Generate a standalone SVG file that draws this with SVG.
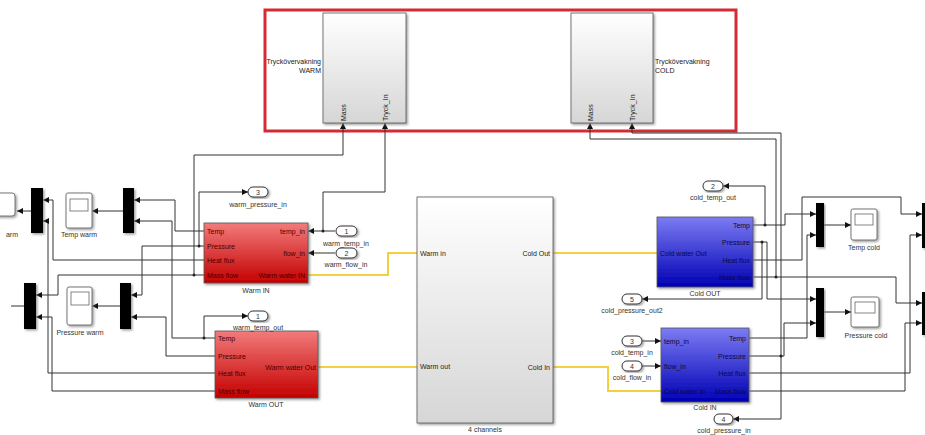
<svg xmlns="http://www.w3.org/2000/svg" width="925" height="435" viewBox="0 0 925 435">
<style>
text{font-family:"Liberation Sans",Arial,sans-serif;font-size:7px;fill:#222}
.w{fill:none;stroke:#333;stroke-width:1}
.y{fill:none;stroke:#f2d040;stroke-width:2}
.mux{fill:#000;filter:url(#sh)}
.blk{stroke:#555;stroke-width:0.8;filter:url(#sh)}
.port{fill:#fff;stroke:#333;stroke-width:1;filter:url(#sh)}
.scope{fill:#fff;stroke:#777;stroke-width:1;filter:url(#sh)}
.scr{fill:#fff;stroke:#666;stroke-width:0.8}
.rt{fill:#4a0000}
.bt{fill:#0a0a40}
.lbl{text-anchor:middle;fill:#333}
.e{text-anchor:end}
.dot{fill:#222}
</style>
<defs>
<marker id="a" markerUnits="userSpaceOnUse" markerWidth="6" markerHeight="6" refX="6" refY="3" orient="auto">
<path d="M0,0 L6,3 L0,6 z" fill="#111"/>
</marker>
<linearGradient id="gRed" x1="0" y1="0" x2="0" y2="1">
<stop offset="0" stop-color="#f27b7b"/><stop offset="1" stop-color="#c40000"/>
</linearGradient>
<linearGradient id="gBlue" x1="0" y1="0" x2="0" y2="1">
<stop offset="0" stop-color="#7c7cf4"/><stop offset="1" stop-color="#0000b4"/>
</linearGradient>
<linearGradient id="gGrey" x1="0" y1="0" x2="0" y2="1">
<stop offset="0" stop-color="#ffffff"/><stop offset="1" stop-color="#d6d6d6"/>
</linearGradient>
<filter id="sh" x="-20%" y="-20%" width="140%" height="140%">
<feDropShadow dx="1.5" dy="1.5" stdDeviation="0.8" flood-color="#777" flood-opacity="0.7"/>
</filter>
</defs>
<rect width="925" height="435" fill="#fff"/>

<g id="monitor-frame">
<rect x="265" y="10" width="471" height="121" fill="none" stroke="#d42a33" stroke-width="3"/>
</g>

<g id="connectors">
<path class="w" d="M204,231 H175 V200 H134" marker-end="url(#a)"/>
<path class="w" d="M215,338 H172 V221 H134" marker-end="url(#a)"/>
<path class="w" d="M204,338 V316 H248" marker-end="url(#a)"/>
<path class="w" d="M204,246 H142 V295 H131" marker-end="url(#a)"/>
<path class="w" d="M199,246 V192 H248" marker-end="url(#a)"/>
<path class="w" d="M215,356 H166 V317 H131" marker-end="url(#a)"/>
<path class="w" d="M204,260 H53 V200 H43" marker-end="url(#a)"/>
<path class="w" d="M215,373 H48 V221 H43" marker-end="url(#a)"/>
<path class="w" d="M204,275 H58 V295 H36" marker-end="url(#a)"/>
<path class="w" d="M215,391 H52 V317 H36" marker-end="url(#a)"/>
<path class="w" d="M194,275 V155 H343 V123" marker-end="url(#a)"/>
<path class="w" d="M335,231 H308" marker-end="url(#a)"/>
<path class="w" d="M323,231 V192 H385 V123" marker-end="url(#a)"/>
<path class="w" d="M335,253 H308" marker-end="url(#a)"/>
<path class="w" d="M123,211 H92" marker-end="url(#a)"/>
<path class="w" d="M31,211 H17" marker-end="url(#a)"/>
<path class="w" d="M120,306 H92" marker-end="url(#a)"/>
<path class="w" d="M24,306 H11"/>
<path class="w" d="M753,225 H785 V214 H816" marker-end="url(#a)"/>
<path class="w" d="M765,225 V186 H723" marker-end="url(#a)"/>
<path class="w" d="M753,242 H767 V299 H816" marker-end="url(#a)"/>
<path class="w" d="M762,242 V299 H642" marker-end="url(#a)"/>
<path class="w" d="M753,260 H802 V197 H901 V214 H922" marker-end="url(#a)"/>
<path class="w" d="M753,277 H896 V303 H922" marker-end="url(#a)"/>
<path class="w" d="M776,277 V139 H590 V123" marker-end="url(#a)"/>
<path class="w" d="M749,338 H807 V235 H816" marker-end="url(#a)"/>
<path class="w" d="M749,356 H784 V323 H816" marker-end="url(#a)"/>
<path class="w" d="M781,356 V133 H632 V123" marker-end="url(#a)"/>
<path class="w" d="M781,356 V419 H733" marker-end="url(#a)"/>
<path class="w" d="M749,373 H910 V235 H922" marker-end="url(#a)"/>
<path class="w" d="M749,391 H905 V323 H922" marker-end="url(#a)"/>
<path class="w" d="M824,225 H851" marker-end="url(#a)"/>
<path class="w" d="M824,312 H851" marker-end="url(#a)"/>
<path class="w" d="M642,341 H661" marker-end="url(#a)"/>
<path class="w" d="M642,366 H661" marker-end="url(#a)"/>
<path class="y" d="M308,275 H388 V253 H417"/>
<path class="y" d="M318,367 H417"/>
<path class="y" d="M553,253 H657"/>
<path class="y" d="M553,367 H608 V391 H661"/>
<circle class="dot" cx="204" cy="338" r="1.5"/>
<circle class="dot" cx="199" cy="246" r="1.5"/>
<circle class="dot" cx="194" cy="275" r="1.5"/>
<circle class="dot" cx="323" cy="231" r="1.5"/>
<circle class="dot" cx="765" cy="225" r="1.5"/>
<circle class="dot" cx="762" cy="242" r="1.5"/>
<circle class="dot" cx="776" cy="277" r="1.5"/>
<circle class="dot" cx="781" cy="356" r="1.5"/>
</g>

<g id="tryck-warm">
<rect class="blk" x="323" y="13" width="83" height="110" fill="url(#gGrey)"/>
<text class="e" x="321" y="64">Tryckövervakning</text>
<text class="e" x="321" y="73">WARM</text>
<text transform="translate(345.5,121) rotate(-90)">Mass</text>
<text transform="translate(387.5,121) rotate(-90)">Tryck_In</text>
</g>

<g id="tryck-cold">
<rect class="blk" x="571" y="13" width="82" height="110" fill="url(#gGrey)"/>
<text x="655" y="64">Tryckövervakning</text>
<text x="655" y="73">COLD</text>
<text transform="translate(592.5,121) rotate(-90)">Mass</text>
<text transform="translate(634.5,121) rotate(-90)">Tryck_In</text>
</g>

<g id="four-channels">
<rect class="blk" x="417" y="197" width="136" height="226" fill="url(#gGrey)"/>
<text x="420" y="255.5">Warm in</text>
<text x="420" y="368.5">Warm out</text>
<text class="e" x="550" y="255.5">Cold Out</text>
<text class="e" x="550" y="369.5">Cold In</text>
<text class="lbl" x="485" y="432">4 channels</text>
</g>

<g id="warm-in">
<rect class="blk" x="204" y="223" width="104" height="60" fill="url(#gRed)"/>
<text class="rt" x="207" y="233.5">Temp</text>
<text class="rt" x="207" y="248.5">Pressure</text>
<text class="rt" x="207" y="262.5">Heat flux</text>
<text class="rt" x="207" y="277.5">Mass flow</text>
<text class="rt e" x="305" y="233.5">temp_in</text>
<text class="rt e" x="305" y="255.5">flow_in</text>
<text class="rt e" x="305" y="277.5">Warm water IN</text>
<text class="lbl" x="256" y="293">Warm IN</text>
</g>

<g id="warm-out">
<rect class="blk" x="215" y="331" width="103" height="67" fill="url(#gRed)"/>
<text class="rt" x="218" y="340.5">Temp</text>
<text class="rt" x="218" y="358.5">Pressure</text>
<text class="rt" x="218" y="375.5">Heat flux</text>
<text class="rt" x="218" y="393.5">Mass flow</text>
<text class="rt e" x="316" y="369.5">Warm water Out</text>
<text class="lbl" x="266" y="407">Warm OUT</text>
</g>

<g id="cold-out">
<rect class="blk" x="657" y="217" width="96" height="70" fill="url(#gBlue)"/>
<text class="bt e" x="750" y="227.5">Temp</text>
<text class="bt e" x="750" y="244.5">Pressure</text>
<text class="bt e" x="750" y="262.5">Heat flux</text>
<text class="bt e" x="750" y="279.5">Mass flow</text>
<text class="bt" x="660" y="255.5">Cold water Out</text>
<text class="lbl" x="705" y="296">Cold OUT</text>
</g>

<g id="cold-in">
<rect class="blk" x="661" y="328" width="88" height="74" fill="url(#gBlue)"/>
<text class="bt" x="664" y="343.5">temp_in</text>
<text class="bt" x="664" y="368.5">flow_in</text>
<text class="bt" x="664" y="393.5">Cold water In</text>
<text class="bt e" x="746" y="340.5">Temp</text>
<text class="bt e" x="746" y="358.5">Pressure</text>
<text class="bt e" x="746" y="375.5">Heat flux</text>
<text class="bt e" x="746" y="393.5">Mass flow</text>
<text class="lbl" x="705" y="410">Cold IN</text>
</g>

<g id="warm-pressure-in">
<rect class="port" x="248" y="187" width="20" height="10" rx="5"/>
<text class="lbl" x="258" y="194.5">3</text>
<text class="lbl" x="258" y="207">warm_pressure_in</text>
</g>
<g id="warm-temp-in">
<rect class="port" x="336" y="226" width="21" height="10" rx="5"/>
<text class="lbl" x="346.5" y="233.5">1</text>
<text class="lbl" x="346" y="246">warm_temp_in</text>
</g>
<g id="warm-flow-in">
<rect class="port" x="336" y="248" width="21" height="10" rx="5"/>
<text class="lbl" x="346.5" y="255.5">2</text>
<text class="lbl" x="346" y="267">warm_flow_in</text>
</g>
<g id="warm-temp-out">
<rect class="port" x="248" y="311" width="20" height="10" rx="5"/>
<text class="lbl" x="258" y="318.5">1</text>
<text class="lbl" x="258" y="330">warm_temp_out</text>
</g>
<g id="cold-temp-out">
<rect class="port" x="703" y="181" width="20" height="10" rx="5"/>
<text class="lbl" x="713" y="188.5">2</text>
<text class="lbl" x="713" y="200">cold_temp_out</text>
</g>
<g id="cold-pressure-out2">
<rect class="port" x="622" y="294" width="20" height="10" rx="5"/>
<text class="lbl" x="632" y="301.5">5</text>
<text class="lbl" x="632" y="313">cold_pressure_out2</text>
</g>
<g id="cold-temp-in">
<rect class="port" x="622" y="336" width="20" height="10" rx="5"/>
<text class="lbl" x="632" y="343.5">3</text>
<text class="lbl" x="632" y="355">cold_temp_in</text>
</g>
<g id="cold-flow-in">
<rect class="port" x="622" y="361" width="20" height="10" rx="5"/>
<text class="lbl" x="632" y="368.5">4</text>
<text class="lbl" x="632" y="380">cold_flow_in</text>
</g>
<g id="cold-pressure-in">
<rect class="port" x="714" y="414" width="19" height="10" rx="5"/>
<text class="lbl" x="723.5" y="421.5">4</text>
<text class="lbl" x="724" y="433">cold_pressure_in</text>
</g>

<g id="mux-a"><rect class="mux" x="31" y="188" width="12" height="45"/></g>
<g id="mux-b"><rect class="mux" x="123" y="188" width="11" height="45"/></g>
<g id="mux-c"><rect class="mux" x="24" y="283" width="12" height="46"/></g>
<g id="mux-d"><rect class="mux" x="120" y="283" width="11" height="46"/></g>
<g id="mux-temp-cold"><rect class="mux" x="816" y="203" width="8" height="44"/></g>
<g id="mux-pressure-cold"><rect class="mux" x="816" y="288" width="8" height="49"/></g>
<g id="mux-heat-cold"><rect class="mux" x="922" y="203" width="8" height="45"/></g>
<g id="mux-mass-cold"><rect class="mux" x="922" y="292" width="8" height="43"/></g>

<g id="scope-partial">
<rect class="scope" x="-12" y="193" width="27" height="23" rx="3"/>
<text class="lbl" x="12" y="237">arm</text>
</g>
<g id="scope-temp-warm">
<rect class="scope" x="66" y="193" width="26" height="35" rx="2"/>
<rect class="scr" x="70" y="199" width="18" height="12"/>
<text class="lbl" x="79" y="237">Temp warm</text>
</g>
<g id="scope-pressure-warm">
<rect class="scope" x="67" y="287" width="25" height="38" rx="2"/>
<rect class="scr" x="71" y="292" width="18" height="13"/>
<text class="lbl" x="80" y="335">Pressure warm</text>
</g>
<g id="scope-temp-cold">
<rect class="scope" x="851" y="209" width="26" height="31" rx="2"/>
<rect class="scr" x="855" y="214" width="18" height="11"/>
<text class="lbl" x="864" y="250">Temp cold</text>
</g>
<g id="scope-pressure-cold">
<rect class="scope" x="851" y="297" width="28" height="30" rx="2"/>
<rect class="scr" x="855" y="302" width="20" height="11"/>
<text class="lbl" x="866" y="338">Pressure cold</text>
</g>
</svg>
